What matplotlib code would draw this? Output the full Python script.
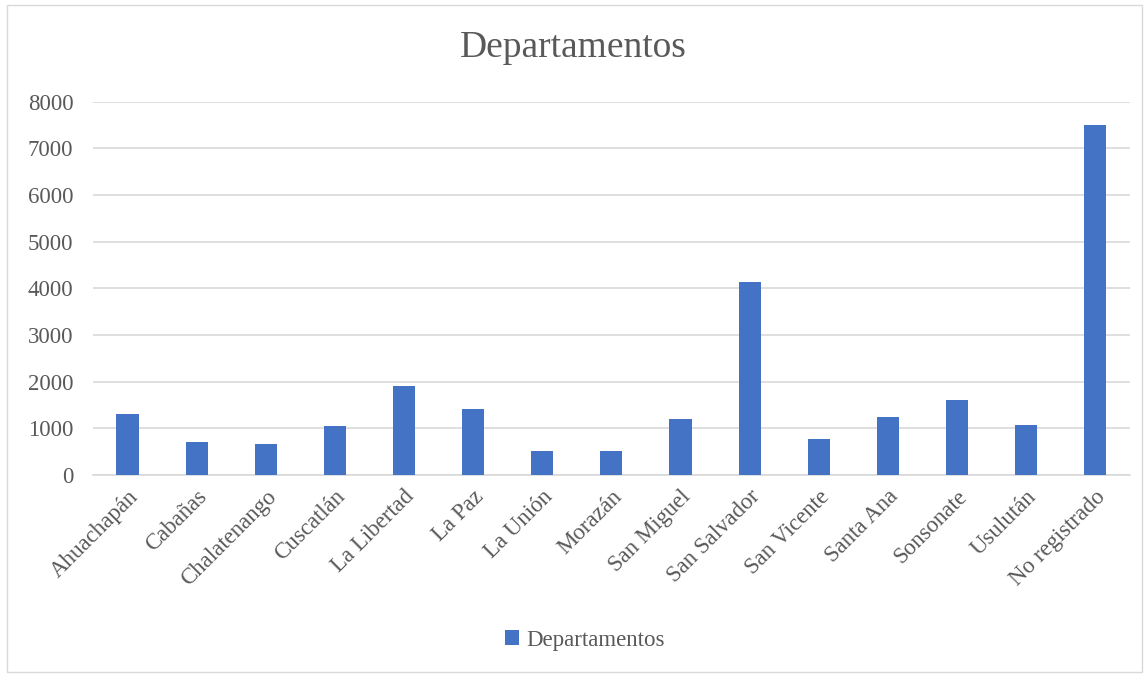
import matplotlib.pyplot as plt
import numpy as np
from matplotlib.patches import Rectangle

plt.rcParams['font.family'] = ['Liberation Serif', 'DejaVu Serif']

# Data
departamentos = ['Ahuachapán', 'Cabañas', 'Chalatenango', 'Cuscatlán', 'La Libertad',
                 'La Paz', 'La Unión', 'Morazán', 'San Miguel', 'San Salvador',
                 'San Vicente', 'Santa Ana', 'Sonsonate', 'Usulután', 'No registrado']
valores = [1310, 710, 670, 1055, 1910, 1420, 515, 515, 1200, 4130,
           770, 1245, 1605, 1075, 7500]
yticks = [0, 1000, 2000, 3000, 4000, 5000, 6000, 7000, 8000]

gray = '#595959'
fig = plt.figure(figsize=(11.47, 6.74), dpi=100)
ax = fig.add_axes([0.081, 0.295, 0.904, 0.554])

x = np.arange(len(departamentos))
ax.bar(x, valores, width=0.32, color='#4472C4', label='Departamentos', zorder=3)

ax.set_xlim(-0.5, len(departamentos) - 0.5)
ax.set_ylim(0, 8000)
ax.set_yticks(yticks)
ax.set_yticklabels([str(t) for t in yticks], fontsize=16.5, color=gray)
ax.set_xticks(x)
ax.set_xticklabels(departamentos, rotation=45, ha='right', rotation_mode='anchor',
                   fontsize=16.5, color=gray)
ax.tick_params(axis='y', length=0, pad=14)
ax.tick_params(axis='x', length=0, pad=8)
ax.grid(axis='y', color='#d9d9d9', linewidth=1.2, zorder=0)
for s in ['top', 'right', 'left']:
    ax.spines[s].set_visible(False)
ax.spines['bottom'].set_color('#d9d9d9')
ax.spines['bottom'].set_linewidth(1.2)

fig.suptitle('Departamentos', y=0.955, fontsize=27, color=gray)

fig.legend(loc='center', bbox_to_anchor=(0.51, 0.05), frameon=False, fontsize=16.5,
           handlelength=0.6, handleheight=0.6, handletextpad=0.3,
           labelcolor=gray)

fig.patches.append(Rectangle((0.006, 0.003), 0.99, 0.99, transform=fig.transFigure,
                             fill=False, edgecolor='#d9d9d9', linewidth=1))

fig.savefig('out.png', dpi=100)
